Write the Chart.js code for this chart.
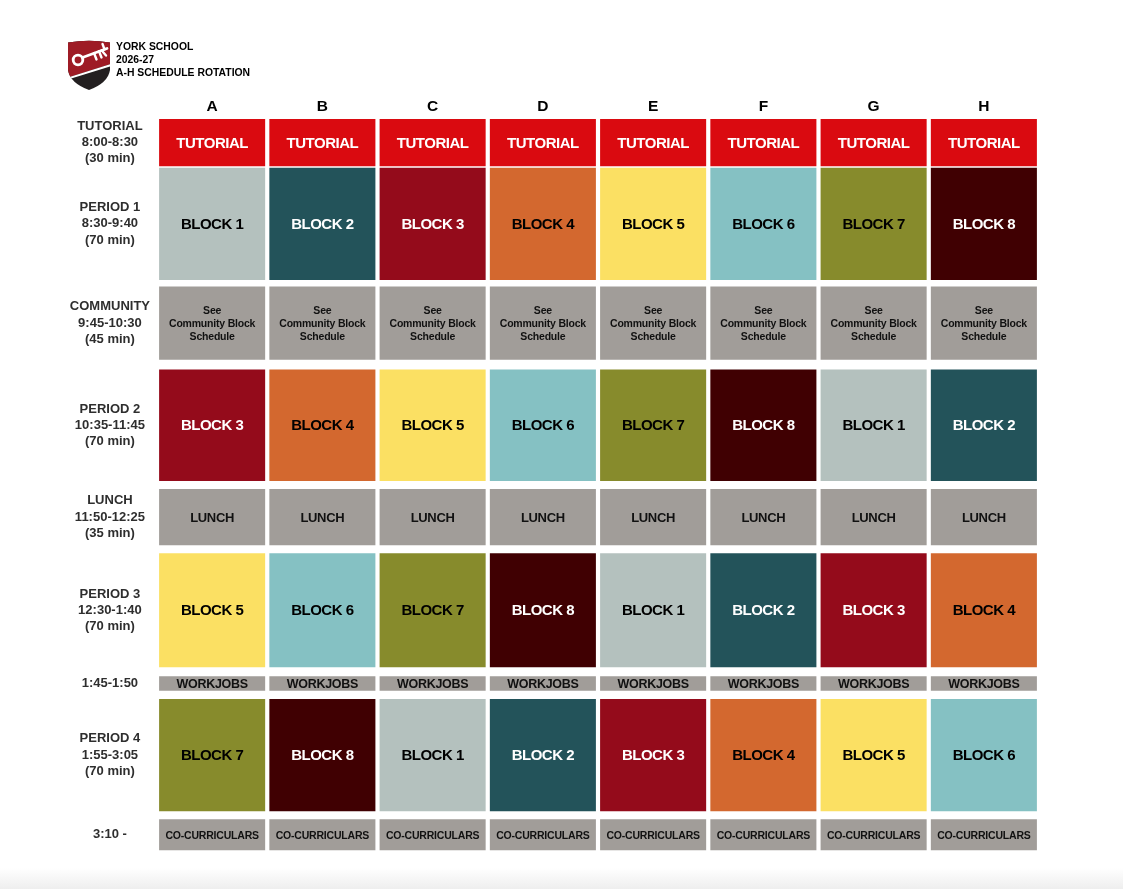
<!DOCTYPE html>
<html lang="en">
<head>
<meta charset="UTF-8">
<title>York School 2026-27 A-H Schedule Rotation</title>
<script src="https://cdn.jsdelivr.net/npm/chart.js"></script>
<style>
  body { margin: 0; background: linear-gradient(#fff 0, #fff 868px, #eeeeee 889px); }
  canvas { display: block; }
</style>
</head>
<body>
<canvas id="scheduleChart" width="1123" height="889"></canvas>
<script>
const FONT = '"Liberation Sans", Arial, Helvetica, sans-serif';

const days = ['A', 'B', 'C', 'D', 'E', 'F', 'G', 'H'];

// drawn span of each row, minutes after 8:00 (as it sits in the picture)
const rowStart = [0, 30, 103, 154, 227.5, 267, 342.5, 356.5, 430.5];
const rowEnd   = [29, 99, 148, 222.5, 262, 337, 351.5, 425.5, 449.5];

const rowLabels = [
  ['TUTORIAL', '8:00-8:30', '(30 min)'],
  ['PERIOD 1', '8:30-9:40', '(70 min)'],
  ['COMMUNITY', '9:45-10:30', '(45 min)'],
  ['PERIOD 2', '10:35-11:45', '(70 min)'],
  ['LUNCH', '11:50-12:25', '(35 min)'],
  ['PERIOD 3', '12:30-1:40', '(70 min)'],
  ['1:45-1:50'],
  ['PERIOD 4', '1:55-3:05', '(70 min)'],
  ['3:10 -']
];

// block number taught on each day, per period
const period1Blocks = [1, 2, 3, 4, 5, 6, 7, 8];
const period2Blocks = [3, 4, 5, 6, 7, 8, 1, 2];
const period3Blocks = [5, 6, 7, 8, 1, 2, 3, 4];
const period4Blocks = [7, 8, 1, 2, 3, 4, 5, 6];

const blockColors = {
  1: '#b4c1be', 2: '#23535a', 3: '#940b1b', 4: '#d3682f',
  5: '#fbe063', 6: '#85c1c3', 7: '#878b2c', 8: '#400002'
};
const darkBlocks = [2, 3, 8];
const tutorialRed = '#da0a10';
const slotGray = '#a19d99';

function blockRow(r, blocks) {
  return {
    data: days.map(() => [rowStart[r], rowEnd[r]]),
    backgroundColor: blocks.map(b => blockColors[b]),
    cellText: blocks.map(b => ['BLOCK ' + b]),
    cellColor: blocks.map(b => darkBlocks.includes(b) ? '#fff' : '#000'),
    cellFont: 'bold 15px ' + FONT, cellSpacing: '-0.5px', lineGap: 0
  };
}

function plainRow(r, color, lines, textColor, font, spacing, gap) {
  return {
    data: days.map(() => [rowStart[r], rowEnd[r]]),
    backgroundColor: color,
    cellText: days.map(() => lines),
    cellColor: days.map(() => textColor),
    cellFont: font, cellSpacing: spacing, lineGap: gap
  };
}

const datasets = [
  plainRow(0, tutorialRed, ['TUTORIAL'], '#fff', 'bold 15px ' + FONT, '-0.5px', 0),
  blockRow(1, period1Blocks),
  plainRow(2, slotGray, ['See', 'Community Block', 'Schedule'], '#111', 'bold 10.5px ' + FONT, '-0.2px', 13),
  blockRow(3, period2Blocks),
  plainRow(4, slotGray, ['LUNCH'], '#111', 'bold 13px ' + FONT, '-0.3px', 0),
  blockRow(5, period3Blocks),
  plainRow(6, slotGray, ['WORKJOBS'], '#111', 'bold 12.5px ' + FONT, '-0.3px', 0),
  blockRow(7, period4Blocks),
  plainRow(8, slotGray, ['CO-CURRICULARS'], '#111', 'bold 10.5px ' + FONT, '-0.2px', 0)
];
datasets.forEach(ds => {
  ds.grouped = false;
  ds.borderWidth = 0;
  ds.borderSkipped = false;
  ds.barPercentage = 0.962;
  ds.categoryPercentage = 1.0;
});

// text inside each cell, centred on the bar element
const cellTextPlugin = {
  id: 'cellText',
  afterDatasetsDraw(chart) {
    const ctx = chart.ctx;
    chart.data.datasets.forEach((ds, i) => {
      chart.getDatasetMeta(i).data.forEach((bar, j) => {
        const lines = ds.cellText[j];
        const cy = (bar.y + bar.base) / 2;
        ctx.save();
        ctx.font = ds.cellFont;
        ctx.letterSpacing = ds.cellSpacing;
        ctx.fillStyle = ds.cellColor[j];
        ctx.textAlign = 'center';
        ctx.textBaseline = 'middle';
        lines.forEach((t, k) => {
          ctx.fillText(t, bar.x, cy + 1 + (k - (lines.length - 1) / 2) * ds.lineGap);
        });
        ctx.restore();
      });
    });
  }
};

// crest and heading in the top-left corner
const headerPlugin = {
  id: 'header',
  afterDraw(chart) {
    const ctx = chart.ctx;
    ctx.save();
    const shield = new Path2D();
    shield.moveTo(68, 42.5);
    shield.quadraticCurveTo(89, 39, 110, 42.5);
    shield.lineTo(110, 70);
    shield.quadraticCurveTo(108, 83, 89, 90);
    shield.quadraticCurveTo(70, 83, 68, 70);
    shield.closePath();
    ctx.fillStyle = '#231f20';
    ctx.fill(shield);
    ctx.clip(shield);
    ctx.fillStyle = '#9e1b25';
    ctx.beginPath();
    ctx.moveTo(60, 35); ctx.lineTo(115, 35); ctx.lineTo(115, 62.8); ctx.lineTo(60, 80);
    ctx.closePath();
    ctx.fill();
    ctx.strokeStyle = '#fff';
    ctx.lineWidth = 2;
    ctx.beginPath(); ctx.moveTo(60, 81); ctx.lineTo(115, 63.8); ctx.stroke();
    // key
    ctx.lineWidth = 2.8;
    ctx.lineCap = 'round';
    ctx.beginPath(); ctx.arc(78, 60, 4.8, 0, Math.PI * 2); ctx.stroke();
    ctx.beginPath(); ctx.moveTo(82.5, 57.5); ctx.lineTo(107, 48.5); ctx.stroke();
    ctx.lineWidth = 2.4;
    ctx.beginPath();
    ctx.moveTo(94, 53); ctx.lineTo(96.5, 59.5);
    ctx.moveTo(99, 51.2); ctx.lineTo(101.5, 57.5);
    ctx.moveTo(101.5, 50.3); ctx.lineTo(106, 55.5);
    ctx.moveTo(104.5, 49.3); ctx.lineTo(102.5, 44);
    ctx.stroke();
    ctx.restore();

    ctx.save();
    ctx.fillStyle = '#000';
    ctx.font = 'bold 10.4px ' + FONT;
    ctx.textBaseline = 'middle';
    ctx.fillText('YORK SCHOOL', 116, 47.5);
    ctx.fillText('2026-27', 116, 60.5);
    ctx.fillText('A-H SCHEDULE ROTATION', 116, 73.5);
    ctx.restore();
  }
};

new Chart(document.getElementById('scheduleChart'), {
  type: 'bar',
  data: { labels: days, datasets: datasets },
  options: {
    responsive: false,
    animation: false,
    layout: { padding: { top: 92, left: 60, right: 84, bottom: 38 } },
    plugins: {
      legend: { display: false },
      tooltip: { enabled: false }
    },
    scales: {
      x: {
        position: 'top',
        grid: { display: false, drawTicks: false },
        border: { display: false },
        ticks: { color: '#000', padding: 3, maxRotation: 0, font: { family: FONT, size: 15.5, weight: 'bold' } },
        afterFit: s => { s.height = 27; }
      },
      y: {
        reverse: true,
        min: 0,
        max: 450,
        grid: { display: false, drawTicks: false },
        border: { display: false },
        afterBuildTicks: s => {
          s.ticks = rowStart.map((v, i) => ({ value: (v + rowEnd[i]) / 2 }));
        },
        ticks: {
          autoSkip: false,
          crossAlign: 'center',
          padding: 7,
          color: '#2e2e2e',
          font: { family: FONT, size: 13, weight: 'bold', lineHeight: 1.25 },
          callback: (v, i) => rowLabels[i]
        },
        afterFit: s => { s.width = 97; }
      }
    }
  },
  plugins: [cellTextPlugin, headerPlugin]
});
</script>
</body>
</html>
